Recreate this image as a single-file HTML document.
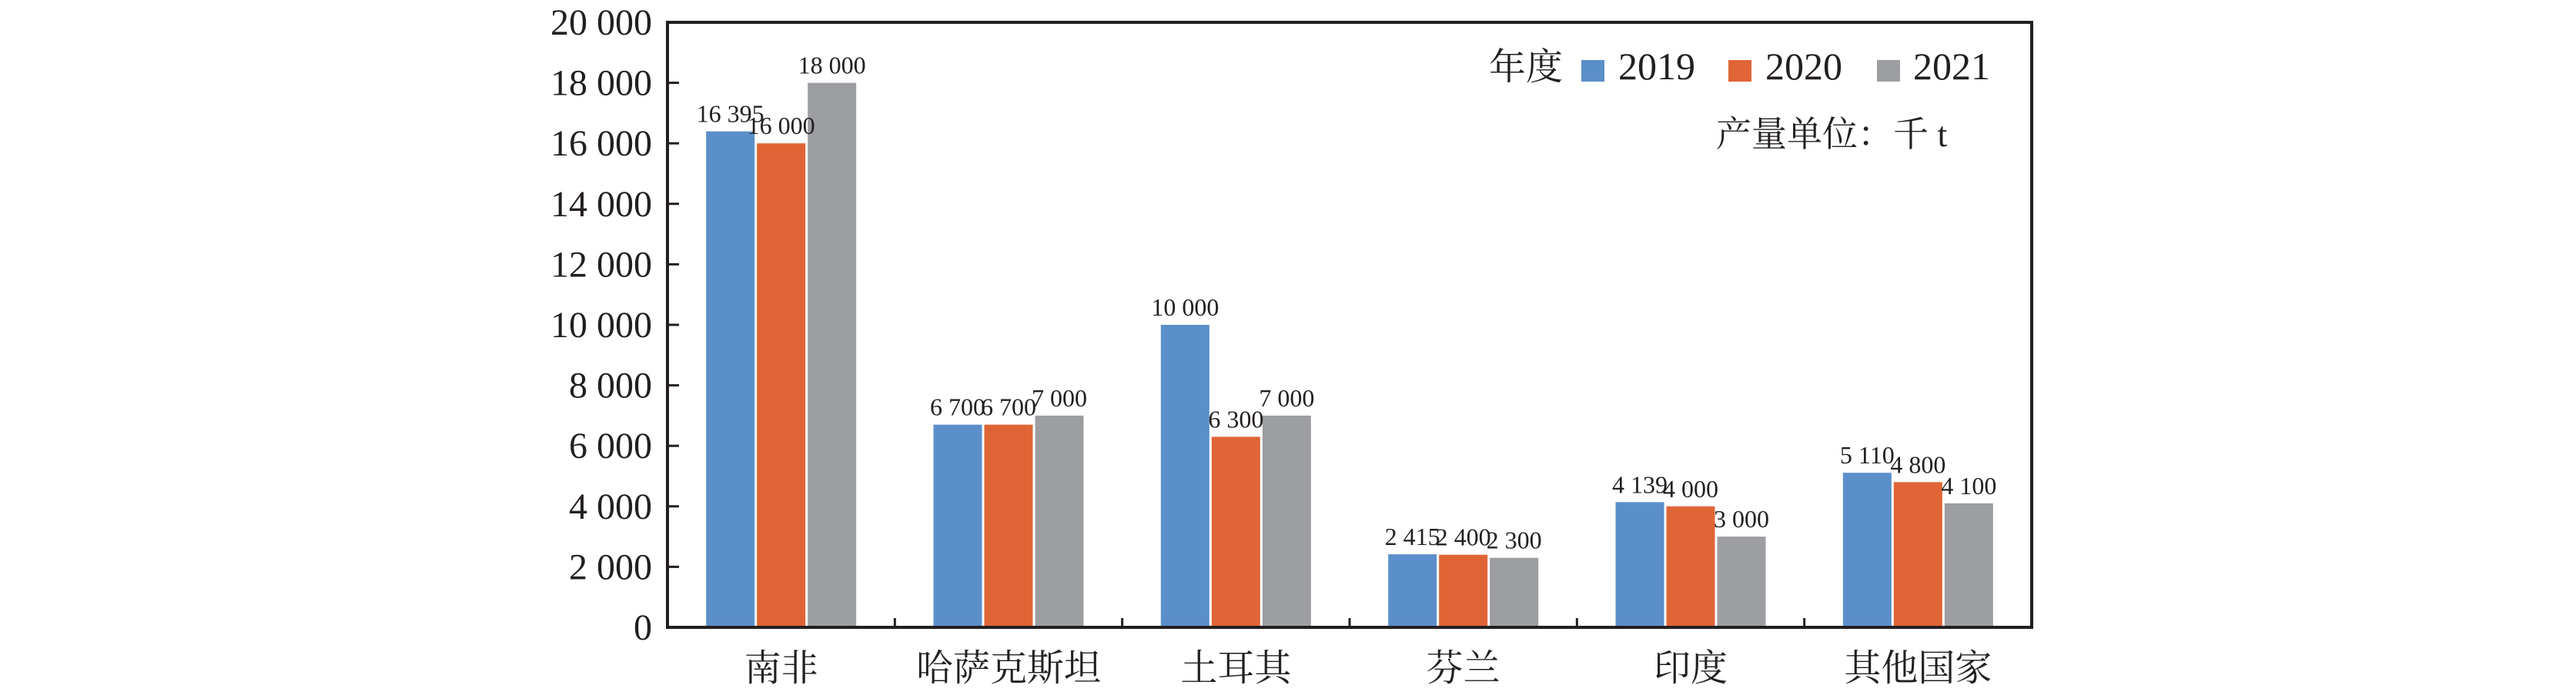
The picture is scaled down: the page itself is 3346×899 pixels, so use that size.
<!DOCTYPE html>
<html><head><meta charset="utf-8"><style>
html,body{margin:0;padding:0;background:#fff;}
svg{display:block;}
text{font-family:"Liberation Serif","Noto Serif CJK SC","Noto Sans CJK SC",serif;fill:#231f20;}
</style></head><body>
<svg id="chart" width="3346" height="899" viewBox="0 0 3346 899" xmlns="http://www.w3.org/2000/svg">
<g id="bars"></g>
<g id="labels"></g>
<g id="axes"></g>
<g>
<text x="1934" y="103" font-size="48">年度</text>
<rect x="2054" y="78" width="30" height="28" fill="#5b8fc9"/>
<text x="2102" y="103" font-size="50">2019</text>
<rect x="2245" y="78" width="30" height="28" fill="#e06536"/>
<text x="2293" y="103" font-size="50">2020</text>
<rect x="2438" y="78" width="30" height="28" fill="#9d9ea2"/>
<text x="2485" y="103" font-size="50">2021</text>
</g>
<text x="2229" y="190" font-size="46">产量单位：千 t</text>
</svg>
<script>
const categories = ["南非","哈萨克斯坦","土耳其","芬兰","印度","其他国家"];
const series2019 = [16395, 6700, 10000, 2415, 4139, 5110];
const series2020 = [16000, 6700, 6300, 2400, 4000, 4800];
const series2021 = [18000, 7000, 7000, 2300, 3000, 4100];
const yTicks = [0,2000,4000,6000,8000,10000,12000,14000,16000,18000,20000];
const seriesNames = ["2019","2020","2021"];

const NS="http://www.w3.org/2000/svg";
const L=867,R=2639,T=29,B=815,YMAX=20000;
const colors=["#5b8fc9","#e06536","#9d9ea2"];
function y(v){return B-(v/YMAX)*(B-T);}
const band=(R-L)/categories.length;
function xc(i){return L+band*(i+0.5);}
function fmt(v){const s=String(v);return s.length>3?s.slice(0,s.length-3)+" "+s.slice(-3):s;}
function mk(tag,attrs,parent){const e=document.createElementNS(NS,tag);for(const k in attrs)e.setAttribute(k,attrs[k]);parent.appendChild(e);return e;}
const gB=document.getElementById('bars'),gL=document.getElementById('labels'),gA=document.getElementById('axes');
const all=[series2019,series2020,series2021];
const bw=63,stride=66;
categories.forEach((c,i)=>{
  const left=xc(i)-(stride*2+bw)/2;
  all.forEach((s,j)=>{
    const x=left+j*stride, top=y(s[i]);
    const r=mk('rect',{x:x,y:top,width:bw,height:B-top,fill:colors[j]},gB);
    
    
    const t=mk('text',{x:x+bw/2,y:top-12,'font-size':32,'text-anchor':'middle'},gL);
    t.textContent=fmt(s[i]);
    
    
  });
  const ct=mk('text',{x:xc(i),y:884,'font-size':48,'text-anchor':'middle'},gA);
  ct.textContent=c;
  
  
  if(i>0){
    const tk=mk('line',{x1:L+band*i,x2:L+band*i,y1:B,y2:B-12,stroke:'#231f20','stroke-width':3},gA);
    
    
  }
});
yTicks.forEach(v=>{
  const ln=mk('line',{x1:L,x2:L+15,y1:y(v),y2:y(v),stroke:'#231f20','stroke-width':3},gA);
  
  
  const t=mk('text',{x:847,y:y(v)+16,'font-size':48,'text-anchor':'end'},gA);
  t.textContent=fmt(v);
  
  
});
const fr=mk('rect',{x:L,y:T,width:R-L,height:B-T,fill:'none',stroke:'#231f20','stroke-width':4},gA);


</script>
</body></html>
